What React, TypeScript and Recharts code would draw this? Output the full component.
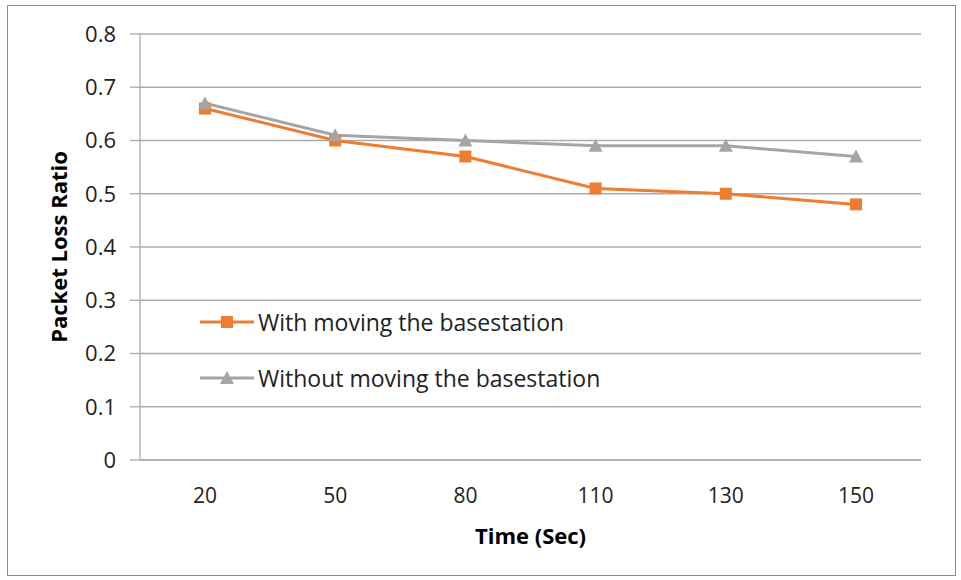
import React from "react";
import { LineChart, Line, XAxis, YAxis, CartesianGrid, Legend } from "recharts";

const times = ["20", "50", "80", "110", "130", "150"];
const withMoving = [0.66, 0.6, 0.57, 0.51, 0.5, 0.48];
const withoutMoving = [0.67, 0.61, 0.6, 0.59, 0.59, 0.57];
const yTicks = [0, 0.1, 0.2, 0.3, 0.4, 0.5, 0.6, 0.7, 0.8];

const ORANGE = "#ED7D31";
const GRAY = "#A5A5A5";
const GRID = "#ABABAB";
const FONT = "'Open Sans', sans-serif";

const data = times.map((t, i) => ({ time: t, with: withMoving[i], without: withoutMoving[i] }));

function Square(props: any) {
  const { cx, cy } = props;
  if (cx == null || cy == null) return null;
  return <rect x={cx - 6} y={cy - 6} width={12} height={12} fill={ORANGE} />;
}

function Triangle(props: any) {
  const { cx, cy } = props;
  if (cx == null || cy == null) return null;
  return <polygon points={`${cx},${cy - 7} ${cx + 7},${cy + 6} ${cx - 7},${cy + 6}`} fill={GRAY} />;
}

const legendItems = [
  { name: "With moving the basestation", color: ORANGE, marker: "square" },
  { name: "Without moving the basestation", color: GRAY, marker: "triangle" },
];

function LegendBox() {
  return (
    <div style={{ fontFamily: FONT, fontSize: 23, color: "#222" }}>
      {legendItems.map((it) => (
        <div key={it.name} style={{ display: "flex", alignItems: "center", height: 56, whiteSpace: "nowrap" }}>
          <svg width={60} height={20} style={{ flexShrink: 0 }}>
            <line x1={2} y1={10} x2={56} y2={10} stroke={it.color} strokeWidth={3} />
            {it.marker === "square" ? (
              <rect x={23} y={4} width={12} height={12} fill={it.color} />
            ) : (
              <polygon points="29,3 36,16 22,16" fill={it.color} />
            )}
          </svg>
          <span>{it.name}</span>
        </div>
      ))}
    </div>
  );
}

export default function App() {
  return (
    <div style={{ position: "fixed", left: 0, top: 0, width: 961, height: 580, background: "#fff" }}>
      <div
        style={{
          position: "absolute",
          left: 7,
          top: 5,
          width: 947,
          height: 569,
          border: "1px solid #8c8c8c",
        }}
      />
      <LineChart width={961} height={580} data={data} margin={{ top: 34, right: 40, bottom: 90, left: 0 }}>
        <CartesianGrid vertical={false} stroke={GRID} strokeWidth={1.3} />
        <XAxis
          dataKey="time"
          height={30}
          padding={{ left: 65, right: 65 }}
          tickLine={false}
          axisLine={{ stroke: GRID, strokeWidth: 1.3 }}
          tick={{ fill: "#222", fontSize: 21, fontFamily: FONT }}
          tickMargin={22}
          label={{
            content: (p: any) => {
              const vb = p.viewBox;
              return (
                <text
                  x={vb.x + vb.width / 2}
                  y={535}
                  textAnchor="middle"
                  dominantBaseline="central"
                  fontFamily={FONT}
                  fontSize={22}
                  fontWeight="bold"
                  fill="#000"
                >
                  Time (Sec)
                </text>
              );
            },
          }}
        />
        <YAxis
          width={140}
          domain={[0, 0.8]}
          ticks={yTicks}
          interval={0}
          tickFormatter={(v: number) => (v === 0 ? "0" : v.toFixed(1))}
          tickSize={10}
          tickLine={{ stroke: GRID, strokeWidth: 1.3 }}
          axisLine={{ stroke: GRID, strokeWidth: 1.3 }}
          tickMargin={14}
          tick={{ fill: "#222", fontSize: 22, fontFamily: FONT }}
          label={{
            content: (p: any) => {
              const vb = p.viewBox;
              const cx = 58;
              const cy = vb.y + vb.height / 2;
              return (
                <text
                  x={cx}
                  y={cy}
                  transform={`rotate(-90, ${cx}, ${cy})`}
                  textAnchor="middle"
                  dominantBaseline="central"
                  fontFamily={FONT}
                  fontSize={22}
                  fontWeight="bold"
                  fill="#000"
                >
                  Packet Loss Ratio
                </text>
              );
            },
          }}
        />
        <Legend
          content={() => <LegendBox />}
          layout="horizontal"
          verticalAlign="middle"
          align="center"
          wrapperStyle={{ left: 198, top: 294, width: 480 }}
        />
        <Line
          dataKey="with"
          name="With moving the basestation"
          stroke={ORANGE}
          strokeWidth={3}
          dot={<Square />}
          activeDot={false}
          isAnimationActive={false}
        />
        <Line
          dataKey="without"
          name="Without moving the basestation"
          stroke={GRAY}
          strokeWidth={3}
          dot={<Triangle />}
          activeDot={false}
          isAnimationActive={false}
        />
      </LineChart>
    </div>
  );
}
